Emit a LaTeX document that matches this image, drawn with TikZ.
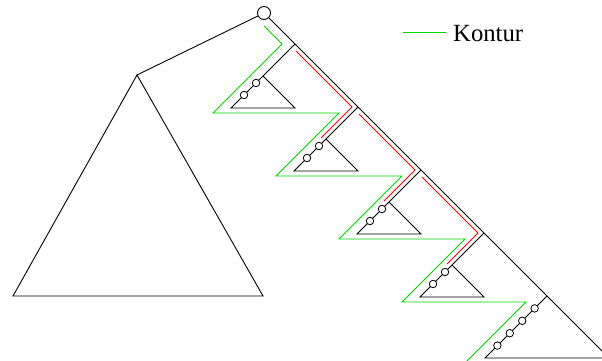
\documentclass[tikz,border=0pt]{standalone}
\usepackage{fontspec}
\setmainfont{Liberation Serif}
\usetikzlibrary{calc}
\definecolor{kgreen}{RGB}{0,215,0}
\definecolor{kred}{RGB}{255,0,0}
\tikzset{
  edge/.style={draw=black,line width=0.9pt},
  knot/.style={circle,draw=black,fill=white,line width=0.8pt,inner sep=0pt,minimum size=7.5pt},
  rootknot/.style={circle,draw=black,fill=white,line width=0.9pt,inner sep=0pt,minimum size=13pt},
  contour/.style={draw=kgreen,line width=0.9pt},
  redpath/.style={draw=kred,line width=0.9pt}
}
\begin{document}
\begin{tikzpicture}[x=1pt,y=-1pt]
\useasboundingbox (0,0) rectangle (602,361);
\clip (0,0) rectangle (602,361);
% branch points on the spine
\foreach \k in {0,...,4}{
  \coordinate (B\k) at ({295+63*\k},{44+63*\k});
}
\coordinate (Lapex) at (137,75);
\coordinate (Lleft) at (13,296);
\coordinate (Lright) at (263,296);
\coordinate (Send) at (609,358);
% big left triangle
\node[rootknot] (root) at (264,13) {};
\draw[edge] (root) -- (Lapex);
\draw[edge] (Lapex) -- (Lleft) -- (Lright) -- cycle;
% spine
\draw[edge] (root) -- (B0) -- (B1) -- (B2) -- (B3) -- (B4) -- (Send);
% small triangles
\foreach \k in {0,...,3}{
  \coordinate (A\k) at ($(B\k)+(-32,32)$);
  \coordinate (BL\k) at ($(B\k)+(-64,64)$);
  \coordinate (BR\k) at ($(B\k)+(0,64)$);
  \draw[edge] (B\k) -- (A\k) -- (BL\k) -- (BR\k) -- (A\k);
  \node[knot] (c\k a) at ($(A\k)+(-7,7)$) {};
  \node[knot] (c\k b) at ($(A\k)+(-19,19)$) {};
}
% bottom triangle
\coordinate (BL4) at ($(B4)+(-62,62)$);
\draw[edge] (B4) -- (BL4) -- (Send);
\foreach \t in {1,...,4}{
  \node[knot] (c4\t) at ($(B4)+({-12.4*\t},{12.4*\t})$) {};
}
% green contour
\coordinate (g0) at (264,26);
\coordinate (g1) at (282,44);
\coordinate (gend) at (456,372);
\draw[contour] (g0) -- (g1)
  -- ($(B0)+(-82,69)$) -- ($(B0)+(44,69)$)
  -- ($(B1)+(-82,69)$) -- ($(B1)+(44,69)$)
  -- ($(B2)+(-82,69)$) -- ($(B2)+(44,69)$)
  -- ($(B3)+(-82,69)$) -- ($(B3)+(42,69)$)
  -- (gend);
% red paths
\coordinate (r0s) at (296,51);  \coordinate (r0c) at (352,107); \coordinate (r0e) at (321,138);
\coordinate (r1s) at (359,114); \coordinate (r1c) at (415,170); \coordinate (r1e) at (384,201);
\coordinate (r2s) at (422,177); \coordinate (r2c) at (478,233); \coordinate (r2e) at (447,264);
\draw[redpath] (r0s) -- (r0c) -- (r0e);
\draw[redpath] (r1s) -- (r1c) -- (r1e);
\draw[redpath] (r2s) -- (r2c) -- (r2e);
% legend
\coordinate (lg0) at (403,32);
\coordinate (lg1) at (446,32);
\draw[contour] (lg0) -- (lg1);
\node[anchor=base west,inner sep=0pt,font=\fontsize{24.7}{28}\selectfont] (legend) at (453,42) {Kontur};
\end{tikzpicture}
\end{document}
